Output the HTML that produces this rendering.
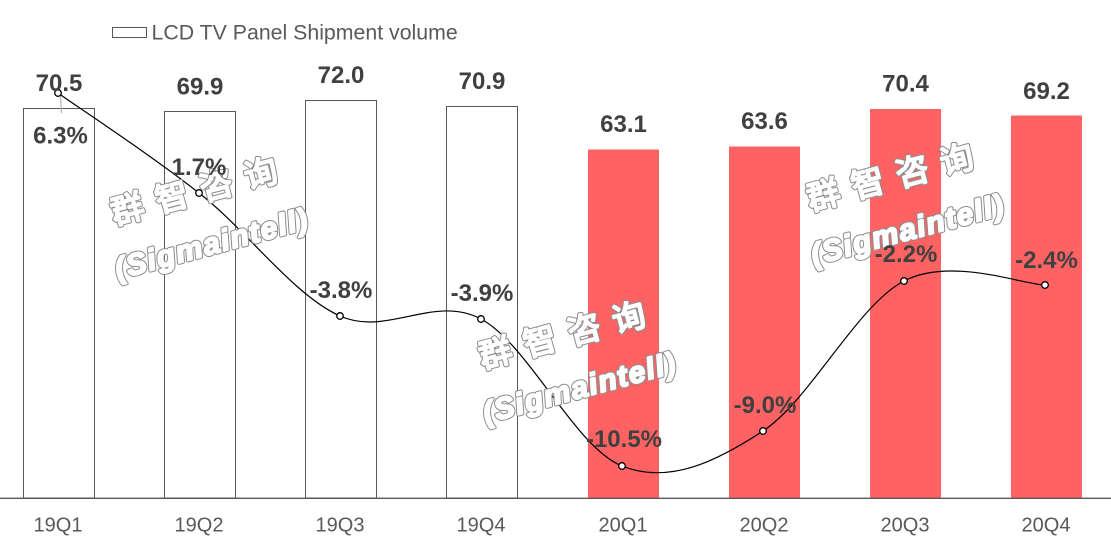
<!DOCTYPE html>
<html><head><meta charset="utf-8"><style>
html,body{margin:0;padding:0;background:#fff;}
svg{display:block;}
</style></head><body>
<svg width="1111" height="553" viewBox="0 0 1111 553" xmlns="http://www.w3.org/2000/svg">
<defs>
<g id="wm">
<text x="6" y="0" text-anchor="middle" dominant-baseline="central" font-family="Noto Sans CJK SC, WenQuanYi Zen Hei, sans-serif" font-weight="normal" font-size="33" letter-spacing="13">群智咨询</text>
<text x="3" y="58" text-anchor="middle" dominant-baseline="central" font-family="Liberation Sans, sans-serif" font-weight="bold" font-style="italic" font-size="30" letter-spacing="1.5">(Sigmaintell)</text>
</g>
</defs>
<rect width="1111" height="553" fill="#fff"/>
<!-- legend -->
<rect x="112.5" y="27.5" width="34" height="10" fill="#fff" stroke="#595959" stroke-width="1"/>
<text x="151.5" y="39.3" font-family="Liberation Sans, sans-serif" font-size="21.3" fill="#595959">LCD TV Panel Shipment volume</text>
<!-- bars -->
<g stroke="#595959" stroke-width="1" fill="#fff">
<rect x="23.5" y="108.5" width="71" height="389.5"/>
<rect x="164.5" y="111.5" width="71" height="386.5"/>
<rect x="305.5" y="100.5" width="71" height="397.5"/>
<rect x="446.5" y="106.5" width="71" height="391.5"/>
</g>
<g fill="#ff6262">
<rect x="588" y="149.5" width="71" height="348.5"/>
<rect x="729" y="146.5" width="71" height="351.5"/>
<rect x="870" y="109" width="71" height="389"/>
<rect x="1011" y="115.5" width="71" height="382.5"/>
</g>
<!-- axis -->
<line x1="0" y1="498.3" x2="1111" y2="498.3" stroke="#595959" stroke-width="1.4"/>
<!-- leader line -->
<line x1="60.5" y1="96" x2="61.5" y2="113" stroke="#a6a6a6" stroke-width="1"/>
<!-- smooth line -->
<path d="M58,93 C81.5,109.7 152,155.8 199,193 C246,229.2 293,295 340,316 C387,337 434,294 481,319 C528,344 575,447.3 622,466 C669,484.7 716,461.8 763,431 C810,400.2 857,305.3 904,281 C951,256.7 1021.5,284.3 1045,285" fill="none" stroke="#000" stroke-width="1.2"/>
<g fill="#fff" stroke="#000" stroke-width="1.3">
<circle cx="58" cy="93" r="3.3"/>
<circle cx="199" cy="193" r="3.3"/>
<circle cx="340" cy="316" r="3.3"/>
<circle cx="481" cy="319" r="3.3"/>
<circle cx="622" cy="466" r="3.3"/>
<circle cx="763" cy="431" r="3.3"/>
<circle cx="904" cy="281" r="3.3"/>
<circle cx="1045" cy="285" r="3.3"/>
</g>
<!-- watermarks: outer gray outline then white fat fill -->
<g stroke="#8c8c8c" stroke-width="4" stroke-linejoin="round" stroke-linecap="round" fill="#8c8c8c">
<use href="#wm" transform="translate(194,189) rotate(-15)"/>
<use href="#wm" transform="translate(562,333) rotate(-15)"/>
<use href="#wm" transform="translate(890,175) rotate(-15)"/>
</g>
<g stroke="#fff" stroke-width="2" stroke-linejoin="round" stroke-linecap="round" fill="#fff">
<use href="#wm" transform="translate(194,189) rotate(-15)"/>
<use href="#wm" transform="translate(562,333) rotate(-15)"/>
<use href="#wm" transform="translate(890,175) rotate(-15)"/>
</g>
<!-- value labels -->
<g font-family="Liberation Sans, sans-serif" font-weight="bold" font-size="24" fill="#404040" text-anchor="middle">
<text x="59" y="91">70.5</text>
<text x="200" y="94.5">69.9</text>
<text x="341" y="83">72.0</text>
<text x="482" y="89">70.9</text>
<text x="623.5" y="132">63.1</text>
<text x="764.5" y="129">63.6</text>
<text x="905.5" y="91.5">70.4</text>
<text x="1046.5" y="99">69.2</text>
<!-- percent labels -->
<text x="60.5" y="143.3">6.3%</text>
<text x="199" y="175">1.7%</text>
<text x="341" y="298">-3.8%</text>
<text x="482" y="301">-3.9%</text>
<text x="624" y="447">-10.5%</text>
<text x="765" y="413">-9.0%</text>
<text x="906" y="262">-2.2%</text>
<text x="1046.5" y="268">-2.4%</text>
</g>
<!-- x labels -->
<g font-family="Liberation Sans, sans-serif" font-size="20" fill="#595959" text-anchor="middle">
<text x="58" y="531.5">19Q1</text>
<text x="199" y="531.5">19Q2</text>
<text x="340" y="531.5">19Q3</text>
<text x="481" y="531.5">19Q4</text>
<text x="623" y="531.5">20Q1</text>
<text x="764" y="531.5">20Q2</text>
<text x="905" y="531.5">20Q3</text>
<text x="1046" y="531.5">20Q4</text>
</g>
</svg>
</body></html>
